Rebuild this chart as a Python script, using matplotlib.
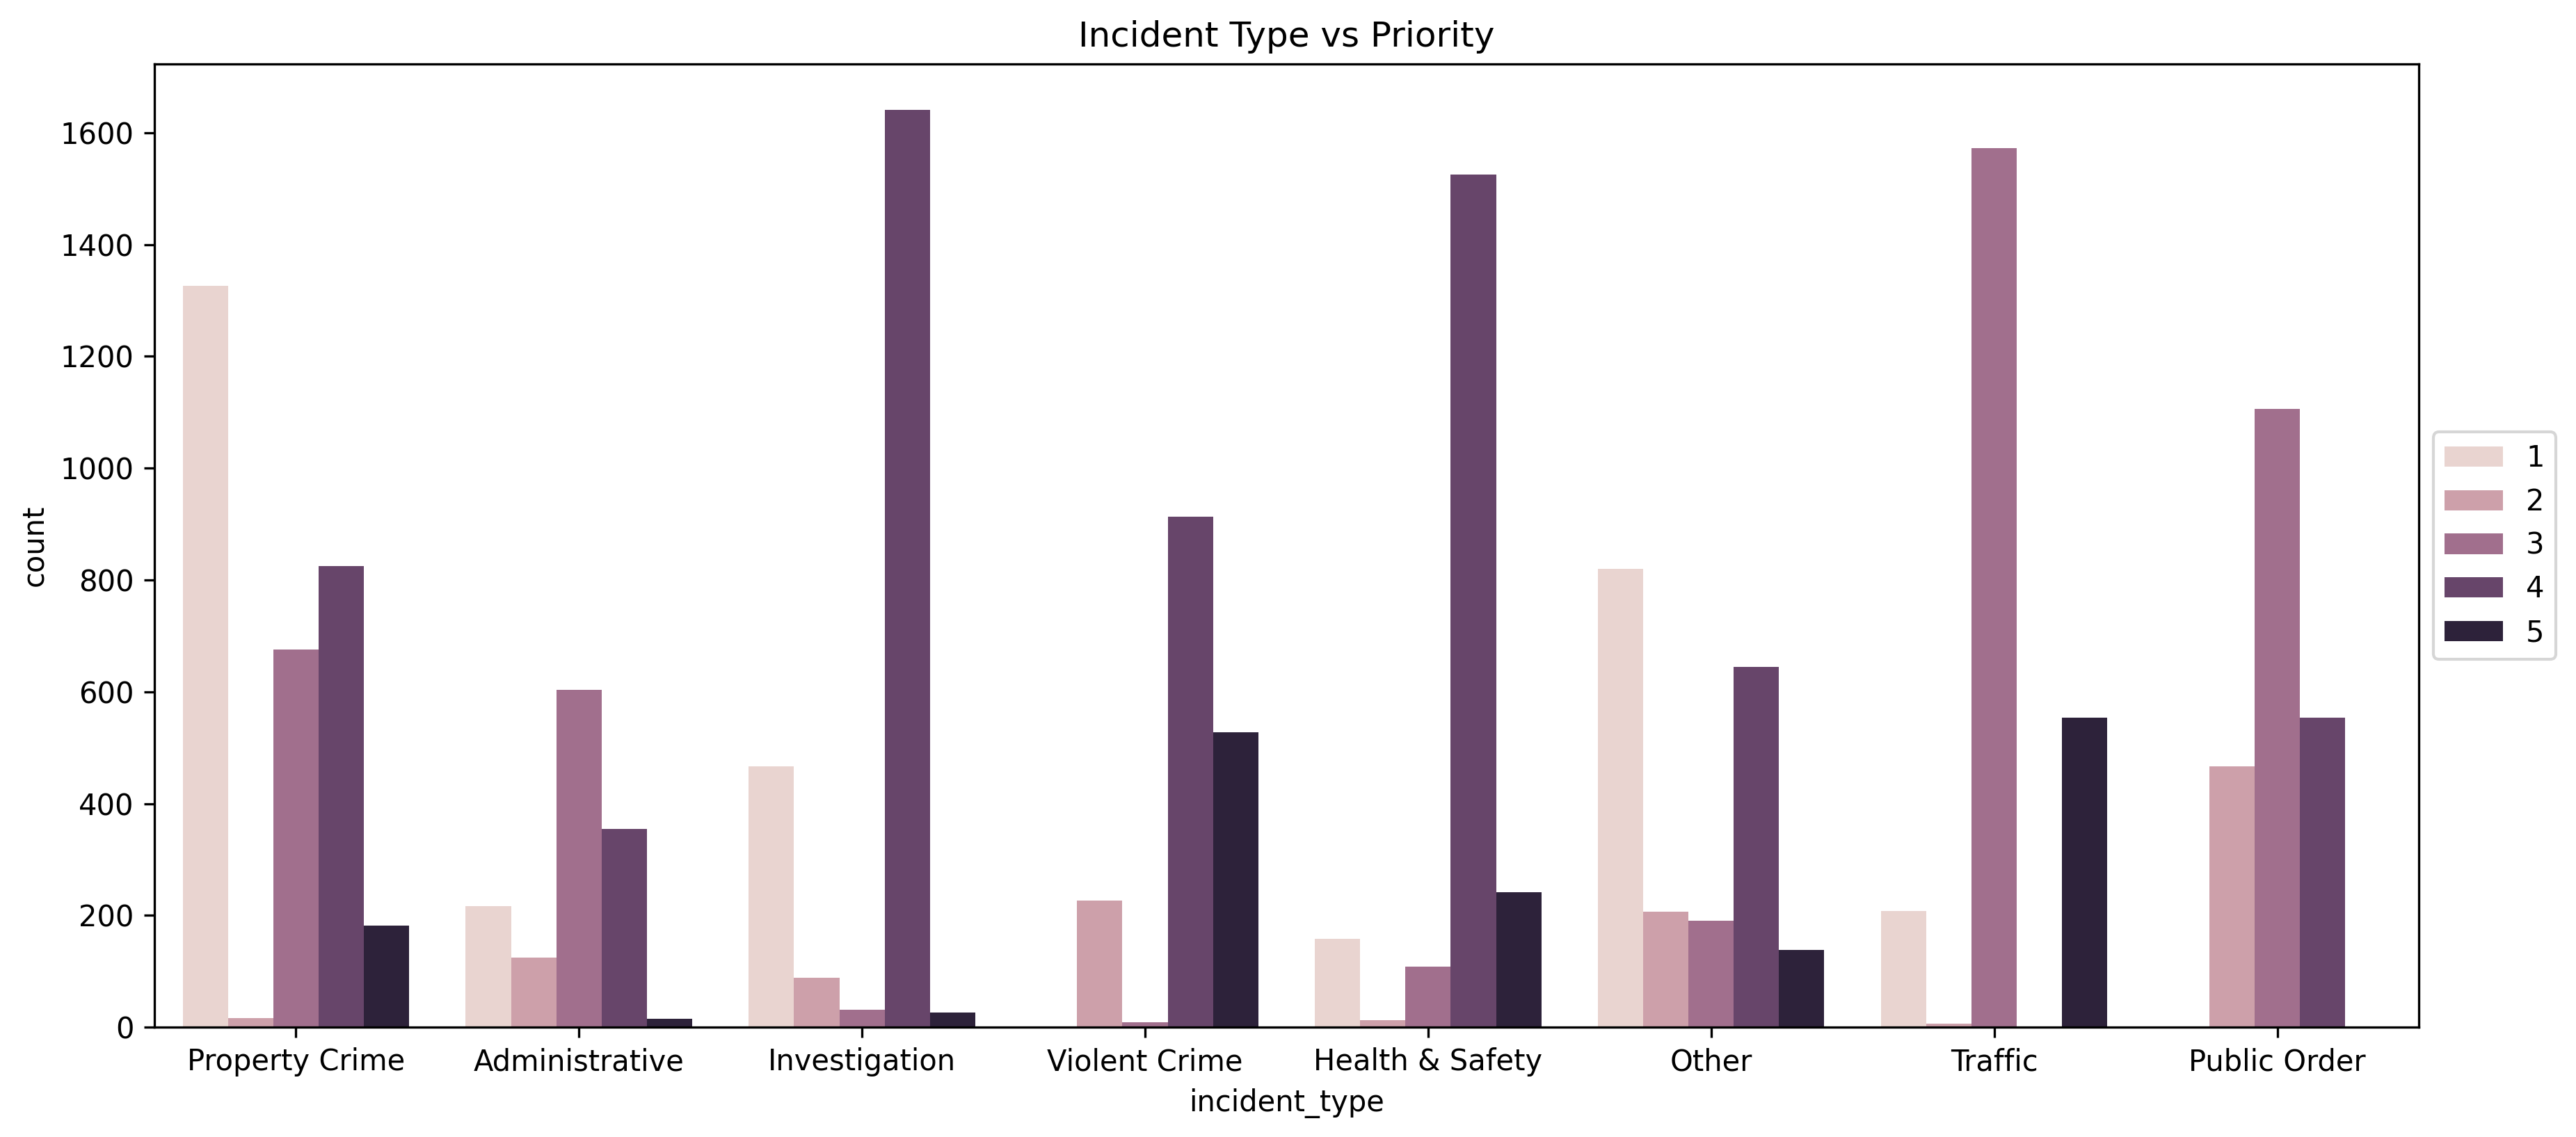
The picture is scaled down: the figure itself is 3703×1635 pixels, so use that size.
import matplotlib
matplotlib.use("Agg")
import matplotlib.pyplot as plt
import numpy as np
import seaborn as sns

incident_types = ["Property Crime", "Administrative", "Investigation", "Violent Crime",
                  "Health & Safety", "Other", "Traffic", "Public Order"]
priorities = [1, 2, 3, 4, 5]

# counts per priority, in the order of incident_types
p1 = [1326, 217, 467, 0, 158, 820, 208, 0]
p2 = [16, 125, 88, 226, 12, 207, 6, 466]
p3 = [675, 604, 31, 9, 108, 191, 1572, 1106]
p4 = [825, 355, 1641, 913, 1525, 645, 0, 554]
p5 = [182, 15, 26, 527, 242, 138, 554, 0]

counts = [p1, p2, p3, p4, p5]

cmap = sns.cubehelix_palette(as_cmap=True)

fig = plt.figure(figsize=(3704 / 300, 1635 / 300), dpi=300)
ax = fig.add_axes([0.0599, 0.0966, 0.8788, 0.8471])

x = np.arange(len(incident_types))
n = len(priorities)
width = 0.8 / n
for i, (pr, vals) in enumerate(zip(priorities, counts)):
    offs = -0.4 + width * (i + 0.5)
    color = cmap((pr - priorities[0]) / (priorities[-1] - priorities[0]))
    # seaborn bars are drawn with saturation=.75
    color = sns.desaturate(color, 0.75)
    ax.bar(x + offs, vals, width=width, color=color, label=str(pr))

ax.set_xticks(x)
ax.set_xticklabels(incident_types)
ax.set_xlim(-0.5, len(incident_types) - 0.5)
ax.set_xlabel("incident_type")
ax.set_ylabel("count")
ax.set_title("Incident Type vs Priority")
ax.legend(loc="center left", bbox_to_anchor=(1, 0.5))

fig.savefig("out.png", dpi=300)
